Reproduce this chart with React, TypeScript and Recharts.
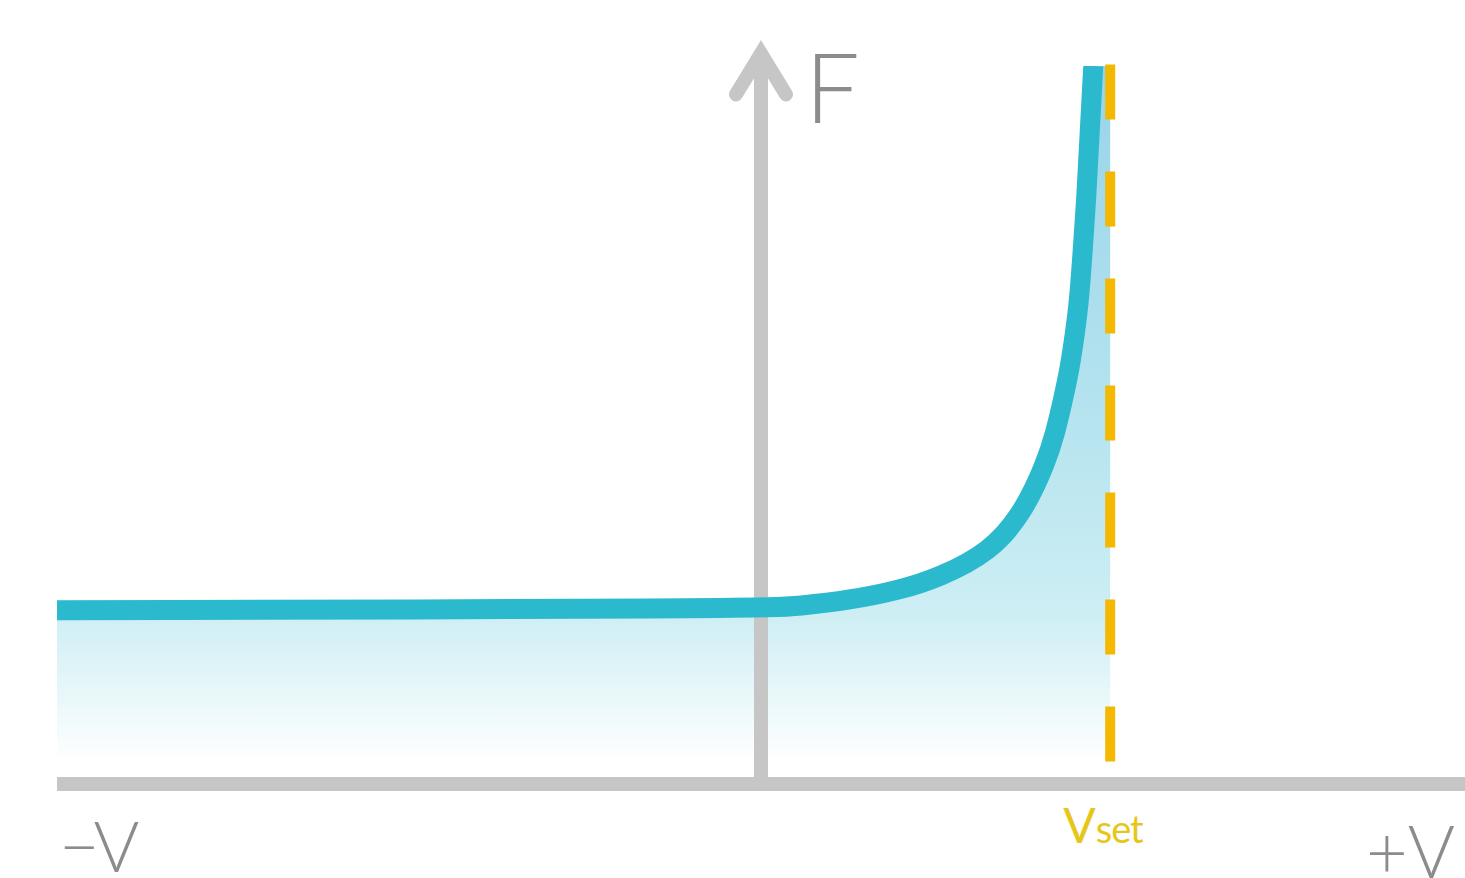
import React from "react";
import {
  ComposedChart,
  Area,
  Line,
  XAxis,
  YAxis,
  ReferenceLine,
  ReferenceDot,
} from "recharts";

// voltage (−1 = −V, +1 = +V) and force
const voltage = [-1, 0, 0.055, 0.126, 0.197, 0.254, 0.325, 0.372, 0.405, 0.418, 0.429, 0.439, 0.446, 0.452, 0.457, 0.462, 0.467, 0.472];
const force = [2.42, 2.44, 2.48, 2.56, 2.7, 2.88, 3.23, 3.77, 4.48, 4.89, 5.35, 5.81, 6.28, 6.74, 7.44, 8.13, 9.11, 10];
const vSet = 0.496;
const fTop = 10;

const data = [
  ...voltage.map((v, i) => ({ v, f: force[i], a: force[i] })),
  { v: vSet, f: null, a: fTop },
];

const axisGray = "#c6c6c6";
const labelGray = "#8c8c8c";
const font = "Lato, 'Open Sans', sans-serif";

export default function App() {
  return (
    <div style={{ position: "absolute", left: 0, top: 0, width: 1465, height: 878, background: "#fff" }}>
      <ComposedChart width={1465} height={878} data={data} margin={{ top: 66, right: 0, left: 57, bottom: 94 }}>
        <defs>
          <linearGradient id="fillGrad" x1="0" y1="0" x2="0" y2="1">
            <stop offset="0%" stopColor="#98d4ea" />
            <stop offset="50%" stopColor="#b6e4ef" />
            <stop offset="76%" stopColor="#cdeef4" />
            <stop offset="97%" stopColor="#ffffff" />
          </linearGradient>
        </defs>
        <XAxis dataKey="v" type="number" domain={[-1, 1]} allowDataOverflow hide />
        <YAxis type="number" domain={[0, 10]} allowDataOverflow hide />
        <Area
          type="monotone"
          dataKey="a"
          stroke="none"
          fill="url(#fillGrad)"
          fillOpacity={1}
          isAnimationActive={false}
        />
        <ReferenceLine
          segment={[{ x: -1, y: 0 }, { x: 1, y: 0 }]}
          stroke={axisGray}
          strokeWidth={14}
          ifOverflow="visible"
        />
        <ReferenceLine
          segment={[{ x: 0, y: 0 }, { x: 0, y: 10.15 }]}
          stroke={axisGray}
          strokeWidth={14}
          ifOverflow="visible"
        />
        <ReferenceDot
          x={0}
          y={10.3}
          r={1}
          ifOverflow="visible"
          shape={(p: any) => (
            <polyline
              points={`${p.cx - 25},${p.cy + 50} ${p.cx},${p.cy + 9} ${p.cx + 25},${p.cy + 50}`}
              fill="none"
              stroke={axisGray}
              strokeWidth={14}
              strokeLinejoin="miter"
              strokeLinecap="round"
            />
          )}
        />
        <ReferenceLine
          segment={[{ x: vSet, y: 10.02 }, { x: vSet, y: 0.31 }]}
          stroke="#f4b800"
          strokeWidth={10}
          strokeDasharray="55 52"
          ifOverflow="visible"
        />
        <Line
          type="basis"
          dataKey="f"
          stroke="#2bb9cd"
          strokeWidth={20}
          dot={false}
          activeDot={false}
          isAnimationActive={false}
        />
        <ReferenceDot
          x={0}
          y={10}
          r={1}
          ifOverflow="visible"
          shape={(p: any) => (
            <text x={p.cx + 44} y={p.cy + 57} fill={labelGray} fontFamily={font} fontWeight={300} fontSize={97}>
              F
            </text>
          )}
        />
        <ReferenceDot
          x={-1}
          y={0}
          r={1}
          ifOverflow="visible"
          shape={(p: any) => (
            <text x={p.cx + 2} y={p.cy + 88} fill={labelGray} fontFamily={font} fontWeight={300} fontSize={70} letterSpacing={-6}>
              −V
            </text>
          )}
        />
        <ReferenceDot
          x={1}
          y={0}
          r={1}
          ifOverflow="visible"
          shape={(p: any) => (
            <text x={p.cx - 99} y={p.cy + 94} fill={labelGray} fontFamily={font} fontWeight={300} fontSize={72}>
              +V
            </text>
          )}
        />
        <ReferenceDot
          x={vSet}
          y={0}
          r={1}
          ifOverflow="visible"
          shape={(p: any) => (
            <text x={p.cx - 47} y={p.cy + 59} fill="#e6c619" fontFamily={font} fontSize={48}>
              V<tspan fontSize={38} letterSpacing={-1}>set</tspan>
            </text>
          )}
        />
      </ComposedChart>
    </div>
  );
}
